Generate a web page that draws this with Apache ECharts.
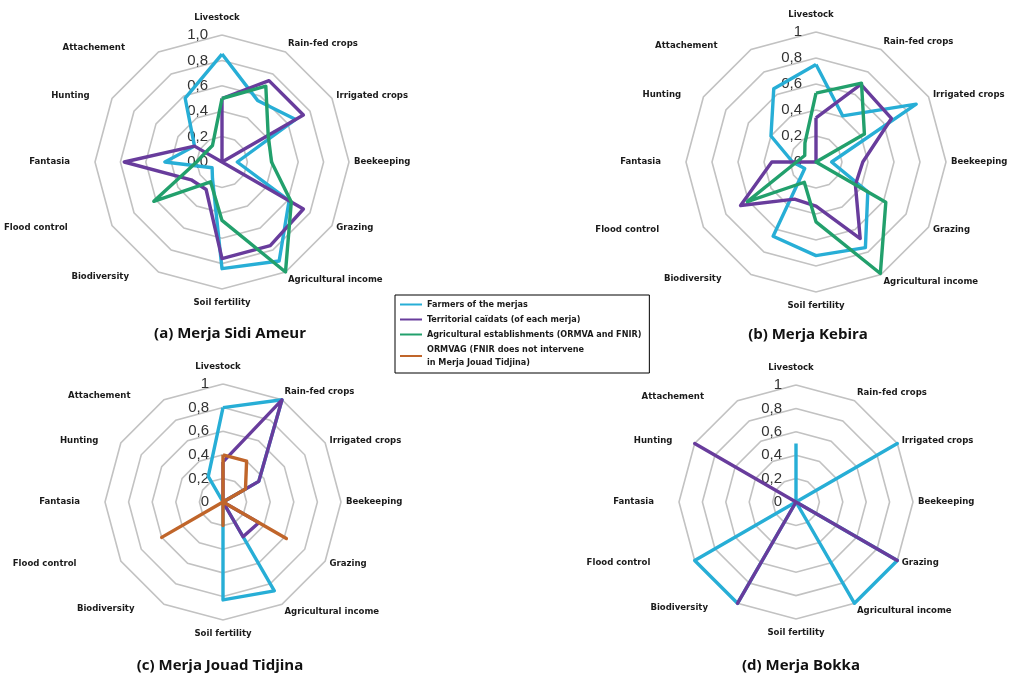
<!DOCTYPE html>
<html>
<head>
<meta charset="utf-8">
<script src="https://cdn.jsdelivr.net/npm/echarts@6/dist/echarts.min.js"></script>
<style>
  html, body { margin: 0; padding: 0; background: #ffffff; }
  #chart { width: 1033px; height: 677px; }
</style>
</head>
<body>
<div id="chart"></div>
<script>
// Criteria, listed clockwise starting from the top of each radar
const CATEGORIES = ['Livestock', 'Rain-fed crops', 'Irrigated crops', 'Beekeeping', 'Grazing',
  'Agricultural income', 'Soil fertility', 'Biodiversity', 'Flood control', 'Fantasia',
  'Hunting', 'Attachement'];

const SERIES_NAMES = [
  'Farmers of the merjas',
  'Territorial caïdats (of each merja)',
  'Agricultural establishments (ORMVA and FNIR)',
  'ORMVAG (FNIR does not intervene\nin Merja Jouad Tidjina)'
];

const TICKS_A = ['0,0', '0,2', '0,4', '0,6', '0,8', '1,0'];
const TICKS_BCD = ['0', '0,2', '0,4', '0,6', '0,8', '1'];

// (a) Merja Sidi Ameur
const FARMERS_A = [0.85, 0.56, 0.67, 0.12, 0.61, 0.90, 0.84, 0.15, 0.09, 0.45, 0.25, 0.58];
const CAIDATS_A = [0.50, 0.74, 0.74, 0.00, 0.74, 0.76, 0.76, 0.25, 0.28, 0.77, 0.25, 0.00];
const ESTAB_A   = [0.50, 0.69, 0.42, 0.39, 0.63, 1.00, 0.46, 0.18, 0.62, 0.20, 0.15, 0.15];

// (b) Merja Kebira
const FARMERS_B = [0.75, 0.41, 0.89, 0.12, 0.46, 0.76, 0.72, 0.66, 0.10, 0.18, 0.40, 0.65];
const CAIDATS_B = [0.34, 0.69, 0.67, 0.36, 0.35, 0.68, 0.34, 0.33, 0.67, 0.34, 0.00, 0.00];
const ESTAB_B   = [0.53, 0.70, 0.43, 0.00, 0.62, 0.99, 0.46, 0.18, 0.61, 0.15, 0.10, 0.17];

// (c) Merja Jouad Tidjina
const FARMERS_C = [0.80, 1.00, 0.35, 0.00, 0.00, 0.87, 0.83, 0.00, 0.00, 0.00, 0.00, 0.25];
const CAIDATS_C = [0.34, 1.00, 0.35, 0.00, 0.35, 0.34, 0.00, 0.00, 0.00, 0.00, 0.00, 0.00];
const ORMVAG_C  = [0.40, 0.40, 0.22, 0.00, 0.62, 0.00, 0.20, 0.00, 0.60, 0.00, 0.00, 0.00];

// (d) Merja Bokka
const FARMERS_D = [0.50, 0.00, 1.00, 0.00, 1.00, 1.00, 0.00, 1.00, 1.00, 0.00, 0.00, 0.00];
const CAIDATS_D = [0.00, 0.00, 0.00, 0.00, 1.00, 0.00, 0.00, 1.00, 0.00, 0.00, 1.00, 0.00];

const COLORS = ['#27aed6', '#683c9c', '#22a06c', '#c0652a'];

const PANELS = [
  { title: '(a) Merja Sidi Ameur', center: [222, 162], radius: 127, ticks: TICKS_A,
    values: [FARMERS_A, CAIDATS_A, ESTAB_A, null], titleAt: [225, 321] },
  { title: '(b) Merja Kebira', center: [816, 162], radius: 130, ticks: TICKS_BCD,
    values: [FARMERS_B, CAIDATS_B, ESTAB_B, null], titleAt: [803, 322] },
  { title: '(c) Merja Jouad Tidjina', center: [223, 502], radius: 118, ticks: TICKS_BCD,
    values: [FARMERS_C, CAIDATS_C, null, ORMVAG_C], titleAt: [215, 653] },
  { title: '(d) Merja Bokka', center: [796, 502], radius: 117, ticks: TICKS_BCD,
    values: [FARMERS_D, CAIDATS_D, null, null], titleAt: [796, 653] }
];

const NAME_FONT = '"DejaVu Sans Condensed", "Liberation Sans Narrow", sans-serif';
const NAME_SIZE = 9.5;

// Extra room around some criterion names [top, right, bottom, left]
const NAME_PAD = {
  'Livestock': [0, 10, 24, 0],
  'Rain-fed crops': [0, 0, 8, 0],
  'Agricultural income': [6, 0, 0, 0],
  'Soil fertility': [18, 0, 0, 0],
  'Biodiversity': [0, 27, 0, 0],
  'Flood control': [0, 40, 0, 0],
  'Fantasia': [0, 20, 0, 0],
  'Hunting': [0, 18, 0, 0],
  'Attachement': [0, 31, 0, 0]
};

// ECharts lays indicators out counter-clockwise; reverse the tail so they read clockwise
function clockwise(arr) {
  return [arr[0]].concat(arr.slice(1).reverse());
}

const rich = {};
CATEGORIES.forEach(function (name, i) {
  rich['c' + i] = {
    fontFamily: NAME_FONT, fontSize: NAME_SIZE, fontWeight: 'bold', color: '#1a1a1a',
    padding: NAME_PAD[name] || [0, 0, 0, 0]
  };
});

const radar = [], series = [], grid = [], xAxis = [], yAxis = [], title = [];

PANELS.forEach(function (p, i) {
  radar.push({
    center: p.center,
    radius: p.radius,
    startAngle: 90,
    shape: 'polygon',
    splitNumber: 5,
    nameGap: 5,
    indicator: clockwise(CATEGORIES).map(function (n) { return { name: n, min: 0, max: 1 }; }),
    axisName: {
      verticalAlign: 'middle',
      fontFamily: NAME_FONT, fontSize: NAME_SIZE, fontWeight: 'bold', color: '#1a1a1a',
      formatter: function (name) { return '{c' + CATEGORIES.indexOf(name) + '|' + name + '}'; },
      rich: rich
    },
    axisLine: { show: false },
    axisTick: { show: false },
    axisLabel: { show: false },
    splitLine: { lineStyle: { color: '#c2c2c2', width: 1.6 } },
    splitArea: { show: false }
  });

  const items = [];
  p.values.forEach(function (vals, k) {
    if (!vals) return;
    items.push({
      name: SERIES_NAMES[k],
      value: clockwise(vals),
      lineStyle: { color: COLORS[k], width: 3.4 },
      itemStyle: { color: COLORS[k] }
    });
  });
  series.push({
    type: 'radar',
    radarIndex: i,
    symbol: 'none',
    emphasis: { disabled: true },
    data: items
  });

  // value scale along the upward radius, used for the tick labels
  grid.push({ left: p.center[0], top: p.center[1] - p.radius, width: 1, height: p.radius });
  xAxis.push({ gridIndex: i, type: 'value', show: false });
  yAxis.push({
    gridIndex: i, type: 'value', min: 0, max: 1, interval: 0.2,
    axisLine: { show: false }, axisTick: { show: false }, splitLine: { show: false },
    axisLabel: {
      margin: 14, fontSize: 15, color: '#333333',
      fontFamily: '"Liberation Sans", Arial, sans-serif',
      formatter: (function (ticks) {
        return function (v) { return ticks[Math.round(v / 0.2)]; };
      })(p.ticks)
    }
  });

  title.push({
    text: p.title,
    left: p.titleAt[0],
    top: p.titleAt[1],
    textAlign: 'center',
    textStyle: { fontFamily: '"Open Sans", sans-serif', fontSize: 15, fontWeight: 'bold', color: '#111' }
  });
});

const chart = echarts.init(document.getElementById('chart'));
chart.setOption({
  animation: false,
  backgroundColor: '#ffffff',
  title: title,
  legend: {
    data: SERIES_NAMES,
    orient: 'vertical',
    left: 395,
    top: 295,
    padding: [3, 8, 4, 5],
    itemGap: 2,
    itemWidth: 22,
    itemHeight: 2,
    icon: 'rect',
    borderColor: '#000',
    borderWidth: 1,
    textStyle: { fontFamily: NAME_FONT, fontSize: 9, fontWeight: 'bold', color: '#1a1a1a', lineHeight: 13 }
  },
  radar: radar,
  grid: grid,
  xAxis: xAxis,
  yAxis: yAxis,
  series: series
});
</script>
</body>
</html>
